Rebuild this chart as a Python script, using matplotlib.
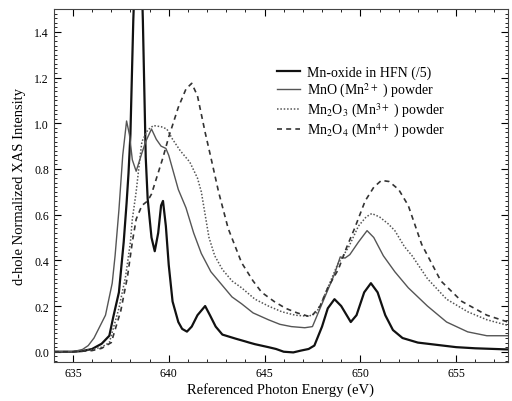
import matplotlib
matplotlib.use('Agg')
import matplotlib.pyplot as plt
from matplotlib.ticker import MultipleLocator, FormatStrFormatter

plt.rcParams['font.family'] = ['Liberation Serif', 'DejaVu Serif']
plt.rcParams['mathtext.fontset'] = 'stix'

# Mn-oxide in HFN (/5)
hfn_e = [634.0, 635.0, 635.5, 636.0, 636.5, 636.9, 637.1, 637.4, 637.65, 637.8, 637.9, 638.0,
         638.15, 638.3, 638.42, 638.55, 638.65, 638.8, 638.9, 639.1, 639.27, 639.45, 639.6,
         639.7, 639.85, 640.0, 640.2, 640.5, 640.7, 640.95, 641.2, 641.5, 641.9, 642.15,
         642.45, 642.8, 643.5, 644.0, 644.2, 644.5, 645.2, 645.6, 646.0, 646.5, 646.9,
         647.3, 647.6, 648.0, 648.3, 648.65, 649.0, 649.5, 649.8, 650.2, 650.55, 650.9,
         651.3, 651.7, 652.2, 653.0, 654.0, 655.0, 656.0, 657.7]
hfn_i = [0.0, 0.0, 0.003, 0.012, 0.035, 0.07, 0.15, 0.26, 0.48, 0.65, 0.78, 0.95,
         1.45, 1.8, 1.9, 1.75, 1.45, 0.85, 0.67, 0.5, 0.44, 0.52, 0.64,
         0.66, 0.55, 0.38, 0.22, 0.13, 0.10, 0.088, 0.11, 0.16, 0.20, 0.16,
         0.11, 0.075, 0.057, 0.045, 0.04, 0.033, 0.02, 0.012, 0.0, -0.003, 0.005,
         0.012, 0.027, 0.11, 0.19, 0.23, 0.2, 0.13, 0.16, 0.26, 0.30, 0.26,
         0.16, 0.095, 0.06, 0.04, 0.03, 0.02, 0.015, 0.01]

# MnO (Mn2+) powder
mno_e = [634.0, 635.0, 635.5, 635.8, 636.1, 636.4, 636.7, 636.9, 637.05, 637.2, 637.4, 637.6,
         637.8, 637.95, 638.1, 638.3, 638.45, 638.6, 638.8, 639.1, 639.35, 639.6, 639.85,
         640.0, 640.2, 640.5, 640.9, 641.3, 641.7, 642.2, 642.6, 643.3, 643.8, 644.4,
         645.2, 645.8, 646.4, 647.1, 647.5, 647.75, 648.2, 648.65, 648.95, 649.2, 649.45,
         649.9, 650.35, 650.7, 651.2, 651.8, 652.5, 653.5, 654.5, 655.6, 656.6, 657.7]
mno_i = [0.0, 0.0, 0.01, 0.027, 0.06, 0.11, 0.16, 0.24, 0.30, 0.42, 0.62, 0.86,
         1.01, 0.95, 0.84, 0.79, 0.83, 0.87, 0.92, 0.975, 0.93, 0.90, 0.89,
         0.86, 0.80, 0.71, 0.63, 0.52, 0.43, 0.35, 0.31, 0.24, 0.21, 0.17,
         0.14, 0.12, 0.11, 0.105, 0.11, 0.16, 0.25, 0.34, 0.415, 0.41, 0.425,
         0.48, 0.53, 0.50, 0.42, 0.35, 0.28, 0.20, 0.13, 0.087, 0.07, 0.07]

# Mn2O3 (Mn3+) powder
mn2o3_e = [634.0, 635.0, 636.0, 636.5, 636.9, 637.4, 637.75, 638.0, 638.1, 638.3, 638.5,
           638.6, 638.9, 639.2, 639.6, 639.9, 640.2, 640.6, 641.1, 641.5, 641.7, 642.1,
           642.4, 642.8, 643.3, 643.8, 644.5, 645.2, 645.9, 646.6, 647.3, 647.7, 648.0,
           648.4, 648.8, 649.4, 649.9, 650.3, 650.6, 651.0, 651.45, 651.8, 652.3, 652.7,
           653.5, 654.5, 655.6, 656.6, 657.7]
mn2o3_i = [0.0, 0.0, 0.01, 0.02, 0.04, 0.19, 0.33, 0.48, 0.58, 0.70, 0.85,
           0.92, 0.97, 0.99, 0.985, 0.975, 0.93, 0.88, 0.83, 0.76, 0.70, 0.50,
           0.42, 0.36, 0.31, 0.28, 0.23, 0.20, 0.175, 0.16, 0.155, 0.17, 0.22,
           0.30, 0.38, 0.46, 0.55, 0.59, 0.605, 0.59, 0.56, 0.53, 0.46, 0.42,
           0.32, 0.23, 0.175, 0.14, 0.115]

# Mn2O4 (Mn4+) powder
mn2o4_e = [634.0, 635.0, 636.0, 636.5, 637.0, 637.5, 637.85, 638.1, 638.3, 638.6, 638.9,
           639.1, 639.4, 639.7, 640.0, 640.5, 640.9, 641.2, 641.5, 641.9, 642.2, 642.6,
           643.1, 643.8, 644.4, 644.85, 645.5, 646.1, 646.7, 647.3, 647.5, 647.9, 648.3,
           648.85, 649.3, 649.7, 650.25, 650.7, 651.1, 651.5, 652.0, 652.5, 653.2, 654.2,
           655.3, 656.6, 657.7]
mn2o4_i = [0.0, 0.0, 0.005, 0.015, 0.04, 0.18, 0.33, 0.48, 0.58, 0.64, 0.66,
           0.69, 0.77, 0.85, 0.94, 1.07, 1.15, 1.175, 1.12, 0.96, 0.85, 0.70,
           0.54, 0.39, 0.31, 0.26, 0.22, 0.19, 0.17, 0.155, 0.16, 0.20, 0.28,
           0.36, 0.46, 0.54, 0.66, 0.72, 0.75, 0.745, 0.71, 0.64, 0.47, 0.31,
           0.22, 0.16, 0.13]

labels = ['Mn-oxide in HFN (/5)',
          r'MnO (Mn$^{2+}$ ) powder',
          r'Mn$_2$O$_3$ (Mn$^{3+}$ ) powder',
          r'Mn$_2$O$_4$ (Mn$^{4+}$ ) powder']

fig = plt.figure(figsize=(5.12, 4.02), dpi=100)
ax = fig.add_axes([0.105, 0.097, 0.887, 0.878])

ax.plot(hfn_e, hfn_i, color='#111111', lw=1.6, label=labels[0])
ax.plot(mno_e, mno_i, color='#555555', lw=1.0, label=labels[1])
ax.plot(mn2o3_e, mn2o3_i, color='#555555', lw=1.1, linestyle=(0, (1, 1.2)), label=labels[2])
ax.plot(mn2o4_e, mn2o4_i, color='#333333', lw=1.2, linestyle=(0, (3, 2.5)), label=labels[3])

ax.set_xlim(634.0, 657.7)
ax.set_ylim(-0.045, 1.5)
ax.xaxis.set_major_locator(MultipleLocator(5))
ax.xaxis.set_minor_locator(MultipleLocator(1))
ax.yaxis.set_major_locator(MultipleLocator(0.2))
ax.yaxis.set_minor_locator(MultipleLocator(0.02))
ax.yaxis.set_major_formatter(FormatStrFormatter('%.1f'))
ax.tick_params(which='both', direction='in', top=True, right=True, labelsize=8.5)
ax.tick_params(which='major', length=5, width=0.8)
ax.tick_params(which='minor', length=2.5, width=0.6)
for s in ax.spines.values():
    s.set_linewidth(0.8)
    s.set_color('#444444')

ax.set_xlabel('Referenced Photon Energy (eV)', fontsize=10.5, labelpad=2)
ax.set_ylabel('d-hole Normalized XAS Intensity', fontsize=10.5, labelpad=6)

ax.legend(loc='upper left', bbox_to_anchor=(0.465, 0.875), frameon=False, fontsize=10,
          handlelength=1.6, handletextpad=0.5, labelspacing=0.12)

fig.savefig('out.png', dpi=100)
